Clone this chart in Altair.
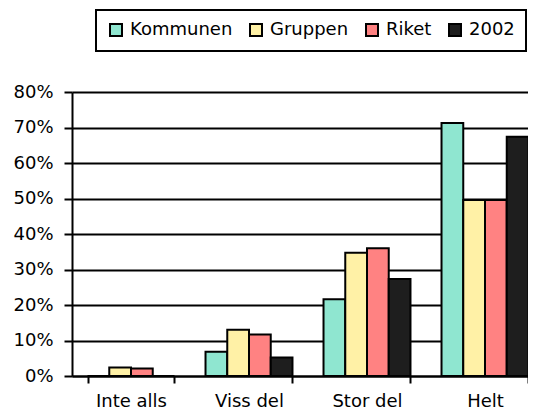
import altair as alt
import pandas as pd

categories = ["Inte alls", "Viss del", "Stor del", "Helt"]
series = ["Kommunen", "Gruppen", "Riket", "2002"]
kommunen = [0.0, 0.068, 0.216, 0.713]
gruppen = [0.024, 0.13, 0.347, 0.496]
riket = [0.021, 0.117, 0.36, 0.496]
y2002 = [0.0, 0.052, 0.273, 0.674]
colors = ["#8fe6d0", "#fff1a6", "#ff8282", "#1e1e1e"]

rows = []
for name, vals in zip(series, [kommunen, gruppen, riket, y2002]):
    for c, v in zip(categories, vals):
        rows.append({"cat": c, "serie": name, "value": v})
df = pd.DataFrame(rows)

FONT = "DejaVu Sans"
FS = 18

chart = alt.Chart(df).mark_bar(stroke="black", strokeWidth=2).encode(
    x=alt.X("cat:N", sort=categories, title=None,
            scale=alt.Scale(range=[0, 472], paddingInner=0.263, paddingOuter=0.1315),
            axis=alt.Axis(labelAngle=0, tickBand="extent", tickSize=7, tickWidth=2,
                          tickColor="black", domainColor="black", domainWidth=2,
                          labelFont=FONT, labelFontSize=FS, labelColor="black",
                          labelPadding=9, grid=False)),
    xOffset=alt.XOffset("serie:N", sort=series,
                        scale=alt.Scale(paddingInner=0, paddingOuter=0)),
    y=alt.Y("value:Q", title=None,
            scale=alt.Scale(domain=[0, 0.8], nice=False),
            axis=alt.Axis(format=".0%", values=[0, 0.1, 0.2, 0.3, 0.4, 0.5, 0.6, 0.7, 0.8],
                          tickSize=8, tickWidth=2, tickColor="black",
                          domainColor="black", domainWidth=2,
                          gridColor="black", gridWidth=2, gridOpacity=1,
                          labelFont=FONT, labelFontSize=FS, labelColor="black",
                          labelPadding=11)),
    fill=alt.Fill("serie:N", sort=series,
                  scale=alt.Scale(domain=series, range=colors),
                  legend=alt.Legend(title=None, orient="none", direction="horizontal",
                                    columns=4, legendX=24, legendY=-82,
                                    symbolType="square", symbolSize=144,
                                    symbolStrokeColor="black", symbolStrokeWidth=2,
                                    labelFont=FONT, labelFontSize=FS, labelColor="black",
                                    labelOffset=5, columnPadding=13,
                                    strokeColor="black", padding=11)),
).properties(
    width=456, height=284,
    autosize=alt.AutoSizeParams(type="none"),
    padding={"left": 64, "top": 84, "right": 0, "bottom": 35},
).configure_view(stroke=None).configure_legend(strokeWidth=2)

chart.save("out.html", embed_options={"renderer": "svg", "actions": False})
